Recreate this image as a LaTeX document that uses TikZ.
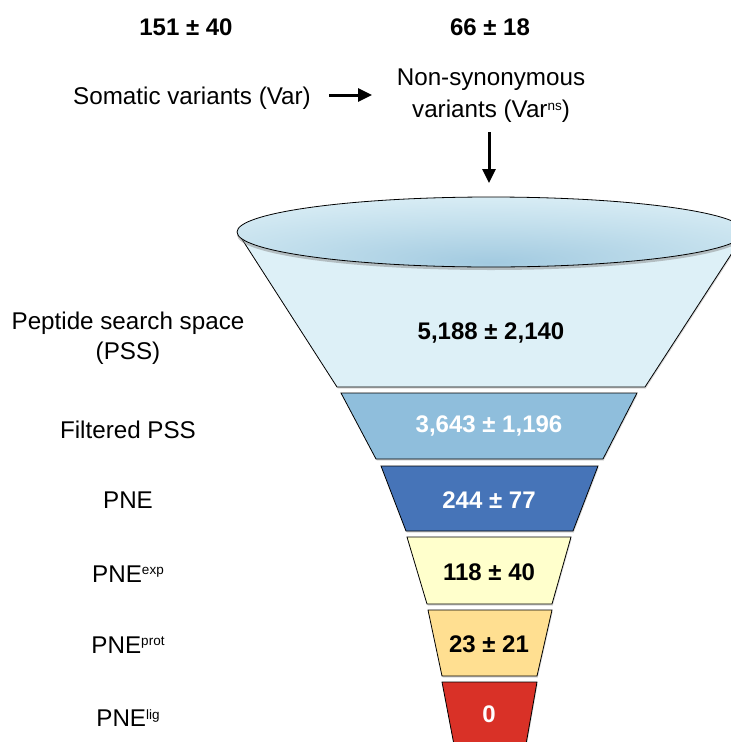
\documentclass[tikz,border=0pt]{standalone}
\usepackage{fontspec}
\setmainfont{Liberation Sans}
\usetikzlibrary{arrows.meta,shadows}

\definecolor{pssfill}{HTML}{DDF0F7}
\definecolor{rimin}{HTML}{A2CAE0}
\definecolor{rimmid}{HTML}{C4E0ED}
\definecolor{rimout}{HTML}{E6F5FA}
\definecolor{filtfill}{HTML}{8FBEDC}
\definecolor{pnefill}{HTML}{4674B8}
\definecolor{expfill}{HTML}{FFFFCC}
\definecolor{protfill}{HTML}{FFDF91}
\definecolor{ligfill}{HTML}{D93127}

% soft glow for the funnel rim, darkest just below its centre
\pgfdeclareradialshading{rimglow}{\pgfpoint{0bp}{-22bp}}{%
  color(0bp)=(rimin); color(22bp)=(rimmid); color(46bp)=(rimout); color(70bp)=(rimout)}

\newcommand\supx[1]{\raisebox{7.5pt}{\fontsize{13.5}{14}\selectfont #1}}

\tikzset{
  lab/.style={font=\fontsize{24.2}{30}\selectfont, align=center, inner sep=0pt},
  num/.style={font=\fontsize{24}{30}\selectfont\bfseries, inner sep=0pt},
  seg/.style={draw=black, line width=0.8pt,
    drop shadow={opacity=0.3, shadow xshift=0.8pt, shadow yshift=-1.5pt}},
  flow/.style={-{Triangle[length=14pt,width=13pt]}, line width=3pt}
}

\begin{document}
\begin{tikzpicture}[x=1pt,y=-1pt]
\useasboundingbox (0,0) rectangle (731,742);
\clip (0,0) rectangle (731,742);

% counts above the two variant sets
\node[num] (nvar) at (186,27) {151 ± 40};
\node[num] (nns)  at (490,27) {66 ± 18};

% variant sets
\node[lab] (var) at (192,98) {Somatic variants (Var)};
\node[lab, font=\fontsize{24.2}{32}\selectfont] (ns) at (491,96) {Non-synonymous\\variants (Var\supx{ns})};
\coordinate (vtail) at (329,95);
\coordinate (vhead) at (372,95);
\draw[flow] (vtail) -- (vhead);

% into the funnel mouth
\coordinate (dtail) at (489,132);
\coordinate (dhead) at (489,183);
\draw[flow] (dtail) -- (dhead);

% cone body: peptide search space
\path[seg, fill=pssfill] (238,233) -- (337,387) -- (645,387) -- (745,233) -- cycle;
\shade[shading=rimglow, draw=black, line width=0.8pt,
  drop shadow={opacity=0.45, shadow xshift=0pt, shadow yshift=-3pt}]
  (491,232) ellipse [x radius=254, y radius=35];
\node[num] (pss) at (491,333) {5,188 ± 2,140};

% lower funnel segments
\path[seg, fill=filtfill] (341,393) -- (376,459) -- (603,459) -- (637,393) -- cycle;
\node[num, text=white] (filt) at (489,426) {3,643 ± 1,196};

\path[seg, fill=pnefill] (381,466) -- (406,531) -- (573,531) -- (598,466) -- cycle;
\node[num, text=white] (pne) at (489,500) {244 ± 77};

\path[seg, fill=expfill] (407,537) -- (427,604) -- (552,604) -- (571,537) -- cycle;
\node[num] (exp) at (489,572) {118 ± 40};

\path[seg, fill=protfill] (428,610) -- (442,676) -- (537,676) -- (552,610) -- cycle;
\node[num] (prot) at (489,644) {23 ± 21};

\path[seg, fill=ligfill] (442,682) -- (455,750) -- (525,750) -- (537,682) -- cycle;
\node[num, text=white] (lig) at (489,714) {0};

% stage names
\node[lab] (lpss)  at (128,338) {Peptide search space\\(PSS)};
\node[lab] (lfilt) at (128,430) {Filtered PSS};
\node[lab] (lpne)  at (128,500) {PNE};
\node[lab] (lexp)  at (128,574) {PNE\supx{exp}};
\node[lab] (lprot) at (128,645) {PNE\supx{prot}};
\node[lab] (llig)  at (128,718) {PNE\supx{lig}};
\end{tikzpicture}
\end{document}
